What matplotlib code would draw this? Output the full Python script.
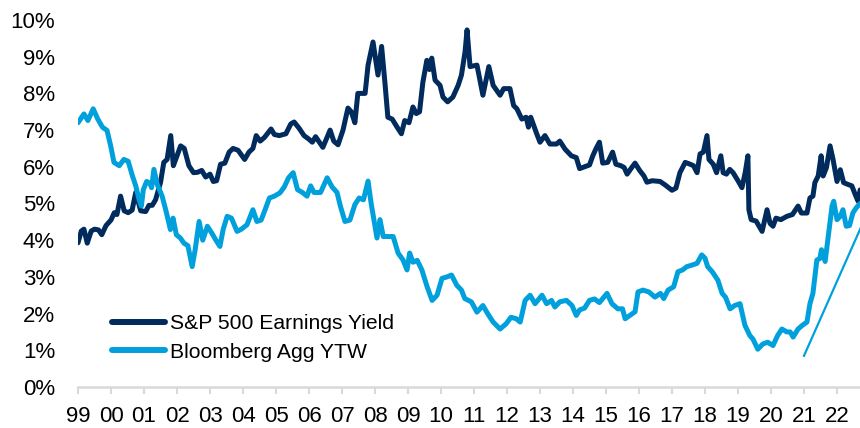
import numpy as np
import matplotlib
matplotlib.use('Agg')
import matplotlib.pyplot as plt

plt.rcParams['font.family'] = ['Liberation Sans', 'DejaVu Sans']

# S&P 500 earnings yield (%)
spx_t = [1999.00, 1999.10, 1999.18, 1999.28, 1999.40, 1999.50, 1999.62, 1999.72, 1999.85,
         2000.00, 2000.10, 2000.18, 2000.29, 2000.40, 2000.52, 2000.64, 2000.75, 2000.90,
         2001.05, 2001.15, 2001.25, 2001.35, 2001.50, 2001.60, 2001.70, 2001.81, 2001.89,
         2002.00, 2002.11, 2002.22, 2002.36, 2002.50, 2002.62, 2002.75, 2002.87,
         2003.00, 2003.10, 2003.20, 2003.32, 2003.45, 2003.58, 2003.70, 2003.85,
         2004.05, 2004.18, 2004.30, 2004.40, 2004.52, 2004.65, 2004.85, 2004.95,
         2005.10, 2005.30, 2005.45, 2005.55, 2005.70, 2005.85,
         2006.00, 2006.10, 2006.20, 2006.42, 2006.64, 2006.75, 2006.88,
         2007.03, 2007.18, 2007.28, 2007.39, 2007.48, 2007.70, 2007.79, 2007.94,
         2008.09, 2008.20, 2008.30, 2008.39, 2008.52, 2008.67, 2008.80, 2008.90,
         2009.03, 2009.15, 2009.25, 2009.35, 2009.45, 2009.57, 2009.65, 2009.72, 2009.82, 2009.97,
         2010.06, 2010.20, 2010.36, 2010.52, 2010.62, 2010.73, 2010.79, 2010.88,
         2011.09, 2011.27, 2011.45, 2011.58, 2011.79, 2011.90,
         2012.09, 2012.20, 2012.30, 2012.45, 2012.58, 2012.65, 2012.72, 2012.90,
         2013.00, 2013.15, 2013.30, 2013.50, 2013.60, 2013.76, 2013.95,
         2014.10, 2014.20, 2014.35, 2014.50, 2014.60, 2014.70, 2014.80, 2014.90,
         2015.05, 2015.20, 2015.30, 2015.45, 2015.55, 2015.64, 2015.78, 2015.88,
         2016.02, 2016.15, 2016.24, 2016.40, 2016.64, 2016.80,
         2017.00, 2017.12, 2017.24, 2017.40, 2017.55, 2017.65, 2017.76, 2017.85, 2017.95,
         2018.06, 2018.12, 2018.25, 2018.35, 2018.48, 2018.55, 2018.65, 2018.75, 2018.85,
         2019.00, 2019.12, 2019.22, 2019.30, 2019.33, 2019.40, 2019.55, 2019.73, 2019.88, 2019.97,
         2020.06, 2020.15, 2020.30, 2020.48, 2020.65, 2020.82, 2020.92,
         2021.09, 2021.18, 2021.27, 2021.33, 2021.43, 2021.52, 2021.58, 2021.68, 2021.79, 2021.88,
         2022.00, 2022.10, 2022.20, 2022.33, 2022.45, 2022.55, 2022.64, 2022.70]
spx_y = [3.93, 4.25, 4.30, 3.92, 4.25, 4.30, 4.28, 4.15, 4.40,
         4.55, 4.75, 4.70, 5.20, 4.80, 4.75, 4.82, 5.30, 4.80,
         4.78, 4.95, 4.95, 5.10, 5.57, 6.12, 6.20, 6.85, 6.03,
         6.30, 6.57, 6.50, 6.03, 5.84, 5.85, 5.90, 5.72,
         5.80, 5.60, 5.62, 6.07, 6.10, 6.40, 6.50, 6.45,
         6.20, 6.40, 6.50, 6.85, 6.70, 6.80, 7.03, 6.88,
         6.85, 6.90, 7.17, 7.22, 7.05, 6.85,
         6.75, 6.67, 6.82, 6.53, 7.00, 6.70, 6.60,
         7.00, 7.60, 7.50, 7.20, 8.00, 8.00, 8.77, 9.40,
         8.50, 9.28, 8.30, 7.35, 7.30, 7.08, 6.90, 7.26,
         7.20, 7.63, 7.45, 7.50, 8.30, 8.90, 8.65, 8.96, 8.36, 8.22,
         7.90, 7.77, 7.90, 8.22, 8.50, 9.14, 9.73, 8.73,
         8.77, 7.95, 8.73, 8.22, 7.95, 8.13,
         8.13, 7.67, 7.58, 7.30, 7.35, 7.08, 7.35, 6.90,
         6.67, 6.85, 6.62, 6.62, 6.70, 6.48, 6.30,
         6.25, 5.95, 6.00, 6.05, 6.30, 6.50, 6.67, 6.10,
         6.12, 6.40, 6.07, 6.03, 5.98, 5.80, 5.98, 6.10,
         5.90, 5.75, 5.58, 5.62, 5.60, 5.50,
         5.36, 5.42, 5.84, 6.12, 6.07, 6.03, 5.84, 6.35, 6.40,
         6.85, 6.20, 6.07, 5.84, 6.30, 5.84, 5.80, 5.93, 5.84,
         5.62, 5.43, 5.85, 6.30, 4.83, 4.56, 4.52, 4.24, 4.83, 4.46,
         4.38, 4.60, 4.56, 4.65, 4.70, 4.93, 4.74,
         4.74, 5.15, 5.20, 5.57, 5.75, 6.30, 5.75, 5.98, 6.57, 6.20,
         5.60, 5.92, 5.57, 5.52, 5.48, 5.25, 5.06, 5.37]

# Bloomberg Agg yield to worst (%)
agg_t = [1999.00, 1999.18, 1999.30, 1999.46, 1999.60, 1999.74, 1999.88, 1999.99,
         2000.09, 2000.25, 2000.39, 2000.52, 2000.65, 2000.75, 2000.85, 2000.92, 2000.98,
         2001.08, 2001.18, 2001.23, 2001.30, 2001.40, 2001.55, 2001.68, 2001.80, 2001.88, 2001.98,
         2002.10, 2002.21, 2002.33, 2002.46, 2002.55, 2002.67, 2002.78, 2002.92,
         2003.05, 2003.18, 2003.30, 2003.40, 2003.52, 2003.65, 2003.82, 2003.95,
         2004.12, 2004.30, 2004.42, 2004.55, 2004.67, 2004.80, 2004.95,
         2005.12, 2005.25, 2005.38, 2005.52, 2005.65, 2005.80, 2005.94,
         2006.05, 2006.15, 2006.35, 2006.55, 2006.70, 2006.85, 2006.95,
         2007.09, 2007.24, 2007.39, 2007.52, 2007.65, 2007.79, 2007.88,
         2008.06, 2008.15, 2008.25, 2008.40, 2008.55, 2008.70, 2008.85, 2008.97,
         2009.05, 2009.15, 2009.28, 2009.42, 2009.58, 2009.73, 2009.88,
         2010.03, 2010.18, 2010.32, 2010.48, 2010.62, 2010.72, 2010.92,
         2011.09, 2011.27, 2011.42, 2011.58, 2011.79, 2011.97,
         2012.12, 2012.28, 2012.40, 2012.55, 2012.70, 2012.85,
         2013.06, 2013.20, 2013.35, 2013.45, 2013.60, 2013.80, 2013.97,
         2014.10, 2014.20, 2014.35, 2014.50, 2014.65, 2014.80,
         2015.03, 2015.18, 2015.36, 2015.50, 2015.58, 2015.72, 2015.88, 2015.97,
         2016.12, 2016.30, 2016.48, 2016.65, 2016.75, 2016.88,
         2017.05, 2017.18, 2017.32, 2017.45, 2017.60, 2017.76, 2017.90,
         2018.00, 2018.08, 2018.22, 2018.39, 2018.52, 2018.62, 2018.76, 2018.90,
         2019.06, 2019.21, 2019.36, 2019.45, 2019.60, 2019.75, 2019.90,
         2020.06, 2020.20, 2020.33, 2020.48, 2020.58, 2020.67, 2020.82, 2020.95,
         2021.09, 2021.18, 2021.27, 2021.39, 2021.48, 2021.53, 2021.64, 2021.72, 2021.85, 2021.90,
         2022.00, 2022.10, 2022.18, 2022.28, 2022.38, 2022.48, 2022.58, 2022.70]
agg_y = [7.20, 7.44, 7.26, 7.58, 7.30, 7.08, 6.99, 6.57,
         6.12, 6.03, 6.20, 6.15, 5.75, 5.48, 5.11, 4.93, 5.38,
         5.60, 5.55, 5.43, 5.93, 5.52, 5.20, 4.75, 4.29, 4.60, 4.15,
         4.06, 3.92, 3.85, 3.28, 3.74, 4.51, 4.00, 4.38,
         4.20, 4.00, 3.83, 4.30, 4.65, 4.60, 4.24, 4.30,
         4.42, 4.83, 4.51, 4.55, 4.83, 5.15, 5.20,
         5.29, 5.45, 5.70, 5.84, 5.38, 5.30, 5.20,
         5.48, 5.30, 5.30, 5.70, 5.45, 5.30, 4.93,
         4.51, 4.55, 4.97, 5.15, 5.10, 5.61, 5.02,
         4.06, 4.56, 4.10, 4.10, 4.10, 3.65, 3.46, 3.19,
         3.65, 3.40, 3.45, 3.19, 2.73, 2.36, 2.50,
         2.96, 3.00, 3.05, 2.77, 2.64, 2.41, 2.32,
         2.04, 2.22, 1.99, 1.77, 1.58, 1.72,
         1.90, 1.86, 1.77, 2.36, 2.50, 2.27,
         2.50, 2.27, 2.36, 2.18, 2.32, 2.36, 2.22,
         1.95, 2.10, 2.15, 2.36, 2.40, 2.30,
         2.55, 2.27, 2.13, 2.13, 1.86, 1.95, 2.05, 2.59,
         2.64, 2.59, 2.45, 2.55, 2.41, 2.64,
         2.73, 3.14, 3.19, 3.28, 3.32, 3.37, 3.60,
         3.51, 3.28, 3.14, 2.91, 2.55, 2.45, 2.13, 2.22,
         2.27, 1.68, 1.40, 1.31, 1.03, 1.17, 1.22,
         1.13, 1.40, 1.58, 1.50, 1.50, 1.36, 1.58, 1.68,
         1.77, 2.27, 2.55, 3.46, 3.50, 3.74, 3.42, 4.00, 4.93, 5.06,
         4.56, 4.65, 4.83, 4.38, 4.40, 4.74, 4.88, 5.00]

# straight annotation line at the right
trend_t = [2021.0, 2022.75]
trend_y = [0.85, 4.40]

years = list(range(1999, 2023))
year_labels = ['%02d' % (y % 100) for y in years]

navy = '#002b5c'
cyan = '#00a0dd'
grey = '#d9d9d9'

fig = plt.figure(figsize=(8.6, 4.28), dpi=100)
ax = fig.add_axes([0.0907, 0.0958, 0.9093, 0.8575])

ax.plot(spx_t, spx_y, color=navy, lw=3.6, label='S&P 500 Earnings Yield',
        solid_joinstyle='round', solid_capstyle='round')
ax.plot(agg_t, agg_y, color=cyan, lw=3.6, label='Bloomberg Agg YTW',
        solid_joinstyle='round', solid_capstyle='round')
ax.plot(trend_t, trend_y, color=cyan, lw=1.6)

ax.set_xlim(1999, 1999 + 782 / 33.0)
ax.set_ylim(0, 10)
ax.set_yticks(range(0, 11))
ax.set_yticklabels(['%d%%' % v for v in range(0, 11)])
ax.set_xticks(years)
ax.set_xticklabels(year_labels)

for s in ['top', 'right', 'left']:
    ax.spines[s].set_visible(False)
ax.spines['bottom'].set_color(grey)
ax.spines['bottom'].set_linewidth(1.8)
ax.tick_params(axis='y', length=0, pad=16.5, labelsize=16, colors='black')
ax.tick_params(axis='x', length=5, width=1.5, color=grey, pad=9, labelsize=16)
ax.tick_params(axis='x', labelcolor='black')

leg = ax.legend(loc='center left', bbox_to_anchor=(0.0435, 0.1335), frameon=False,
                fontsize=15.2, handlelength=2.5, handletextpad=0.25,
                labelspacing=0.45, borderpad=0, borderaxespad=0)
for line in leg.get_lines():
    line.set_linewidth(4.3)
    line.set_solid_capstyle('round')

fig.savefig('out.png', dpi=100)
